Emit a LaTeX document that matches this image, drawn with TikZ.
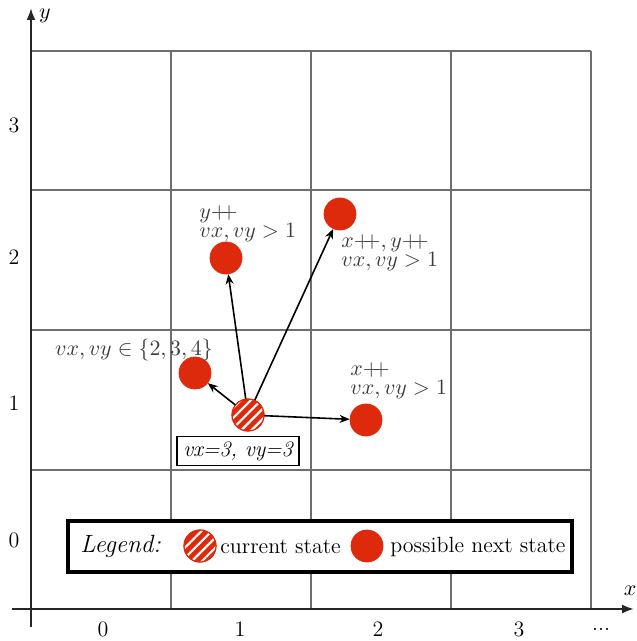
\documentclass[tikz,border=0pt]{standalone}
\usetikzlibrary{patterns.meta,arrows.meta}
\definecolor{stRed}{RGB}{222,42,12}
\definecolor{gridgray}{RGB}{110,110,110}
\definecolor{labgray}{RGB}{60,60,60}
\newcommand{\plpl}{{+}\!\!{+}}
\begin{document}
\begin{tikzpicture}[x=0.5pt,y=-0.5pt,
  gridline/.style={draw=gridgray,line width=1pt},
  axisline/.style={draw=black!85,line width=1pt,-{Latex[length=6pt,width=4.5pt]}},
  nextstate/.style={circle,fill=stRed,draw=stRed,minimum size=16pt,inner sep=0pt},
  curstate/.style={circle,fill=stRed,draw=stRed,minimum size=16pt,inner sep=0pt,
    postaction={pattern={Lines[angle=45,distance=3.6pt,line width=1.1pt]},pattern color=white},
    postaction={draw=stRed,line width=0.6pt}},
  arr/.style={draw=black,line width=0.8pt,-{Stealth[length=5pt,width=4pt]}},
  lab/.style={text=labgray,font=\fontsize{11.3}{9.8}\selectfont,align=left,inner sep=0pt},
  ticklab/.style={font=\fontsize{11}{13}\selectfont,inner sep=0pt},
  legtext/.style={font=\fontsize{11}{13}\selectfont,inner sep=0pt,anchor=west}]
\useasboundingbox (0,0) rectangle (636,641);
% grid
\foreach \yy in {51,190,330,470} \draw[gridline] (31,\yy) -- (591,\yy);
\foreach \xx in {171,311,451,591} \draw[gridline] (\xx,51) -- (\xx,609);
% axes
\coordinate (xs) at (12,609);
\coordinate (xe) at (634,609);
\coordinate (ys) at (31,627);
\coordinate (ye) at (31,8);
\draw[axisline] (xs) -- (xe);
\draw[axisline] (ys) -- (ye);
\node[ticklab] (ylab) at (45,16) {$y$};
\node[ticklab] (xlab) at (630,591) {$x$};
% tick labels
\node[ticklab] (r3) at (14,125) {3};
\node[ticklab] (r2) at (14,257) {2};
\node[ticklab] (r1) at (14,403) {1};
\node[ticklab] (r0) at (14,540) {0};
\node[ticklab] (c0) at (103,629) {0};
\node[ticklab] (c1) at (240,629) {1};
\node[ticklab] (c2) at (378,629) {2};
\node[ticklab] (c3) at (519,629) {3};
\node[ticklab] (c4) at (601,629) {...};
% states
\node[curstate] (cur) at (248,415) {};
\node[nextstate] (nl) at (195,373) {};
\node[nextstate] (nu) at (226,258) {};
\node[nextstate] (nd) at (340,214) {};
\node[nextstate] (nr) at (366,420) {};
\draw[arr] (cur) -- (nl);
\draw[arr] (cur) -- (nu);
\draw[arr] (cur) -- (nd);
\draw[arr] (cur) -- (nr);
% labels
\node[lab,anchor=north west] (lu) at (199,205) {$y\plpl$\\$vx,vy>1$};
\node[lab,anchor=north west] (ld) at (341,234) {$x\plpl,y\plpl$\\$vx,vy>1$};
\node[lab,anchor=center] (ll) at (134,350) {$vx,vy\in\{2,3,4\}$};
\node[lab,anchor=north west] (lr) at (350,362) {$x\plpl$\\$vx,vy>1$};
\node[draw=black,line width=0.8pt,fill=white,inner xsep=3pt,inner ysep=2.5pt,
  font=\fontsize{11}{13}\selectfont\itshape] (vbox) at (238,451) {vx=3, vy=3};
% legend
\node[draw=black,line width=2pt,fill=white,minimum width=252pt,minimum height=25.5pt,inner sep=0pt] (legend) at (320,546.5) {};
\node[legtext,font=\fontsize{12.5}{14}\selectfont\itshape] (legname) at (80,546) {Legend:};
\node[curstate] (legcur) at (200,546) {};
\node[legtext] (legcurt) at (220,547) {current state};
\node[nextstate] (legnext) at (367,546) {};
\node[legtext] (legnextt) at (390,547) {possible next state};
\end{tikzpicture}
\end{document}
